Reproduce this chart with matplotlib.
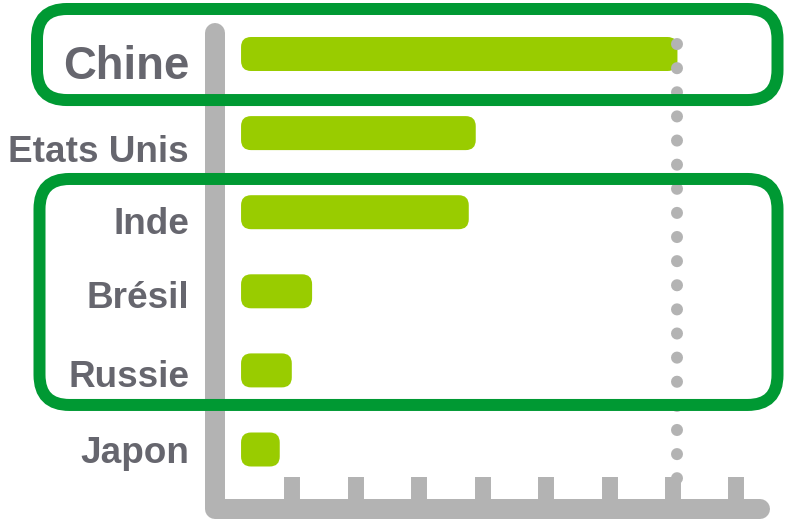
import matplotlib
matplotlib.use("Agg")
import matplotlib.pyplot as plt
from matplotlib.patches import FancyBboxPatch

# ─────────────────────────────────────────────
# DATA
# ─────────────────────────────────────────────
countries = ["Chine", "Etats Unis", "Inde", "Brésil", "Russie", "Japon"]
values    = [7.07, 3.89, 3.78, 1.31, 0.99, 0.80]
ticks     = [1, 2, 3, 4, 5, 6, 7, 8]
groups    = [[0], [2, 3, 4]]   # highlighted rows

# ─────────────────────────────────────────────
# STYLE
# ─────────────────────────────────────────────
BAR_GREEN = "#99cc00"
BOX_GREEN = "#009933"
AXIS_GRAY = "#b3b3b3"
TEXT_GRAY = "#66666e"
PX_X = 63.43   # pixels per x unit
PX_Y = 79.1    # pixels per row
ASPECT = PX_X / PX_Y

label_size = [32.8, 26.6, 26.6, 26.6, 26.6, 26.6]
label_dy   = [25, 28.5, 22, 17, 17, 13.5]   # baseline offset below bar centre, px

fig = plt.figure(figsize=(7.87, 5.2), dpi=100)
ax = fig.add_axes([0, 0, 1, 1])
ax.set_xlim(-229 / PX_X, (787 - 229) / PX_X)
ax.set_ylim((520 - 54) / PX_Y, -54 / PX_Y)
ax.axis("off")

# axis: rounded L shape
ax_x   = (214.5 - 229) / PX_X
ax_top = (33 - 54) / PX_Y
ax_bot = (509 - 54) / PX_Y
ax_end = (760 - 229) / PX_X
ax.plot([ax_x, ax_x, ax_end], [ax_top, ax_bot, ax_bot], color=AXIS_GRAY,
        lw=14.4, solid_capstyle="round", solid_joinstyle="round", zorder=2)

# tick stubs pointing up
tick_top = (477 - 54) / PX_Y
tc = ax.vlines(ticks, tick_top, ax_bot, color=AXIS_GRAY, lw=11.5, zorder=2)
tc.set_capstyle("butt")

# bars
bar_start = 0.19
bar_h = 34 / PX_Y
for i, v in enumerate(values):
    bar = FancyBboxPatch((bar_start, i - bar_h / 2), v - bar_start, bar_h,
                         boxstyle="round,pad=0,rounding_size=%f" % (10 / PX_X),
                         mutation_aspect=ASPECT, fc=BAR_GREEN, ec="none", zorder=3)
    ax.add_patch(bar)

# dotted reference line at the top value
dot_top = (44 - 54) / PX_Y
dot_bot = (482 - 54) / PX_Y
ax.plot([values[0], values[0]], [dot_top, dot_bot], color=AXIS_GRAY, lw=8.64,
        linestyle=(0, (0.01, 2.0)), dash_capstyle="round", zorder=4)

# country labels
for i, name in enumerate(countries):
    ax.text(-40 / PX_X, i + label_dy[i] / PX_Y, name, ha="right", va="baseline",
            fontsize=label_size[i], fontweight="bold", color=TEXT_GRAY,
            family="Liberation Sans", zorder=5)

# highlight boxes
box_left  = [(37 - 229) / PX_X, (39.5 - 229) / PX_X]
box_right = (777.5 - 229) / PX_X
box_pad   = [(0.569, 0.582), (0.42, 0.437)]
for g, rows in enumerate(groups):
    y0 = rows[0] - box_pad[g][0]
    y1 = rows[-1] + box_pad[g][1]
    box = FancyBboxPatch((box_left[g], y0), box_right - box_left[g], y1 - y0,
                         boxstyle="round,pad=0,rounding_size=%f" % (30 / PX_X),
                         mutation_aspect=ASPECT, fc="none", ec=BOX_GREEN,
                         lw=8.64, zorder=6)
    ax.add_patch(box)

fig.savefig("out.png", dpi=100)
